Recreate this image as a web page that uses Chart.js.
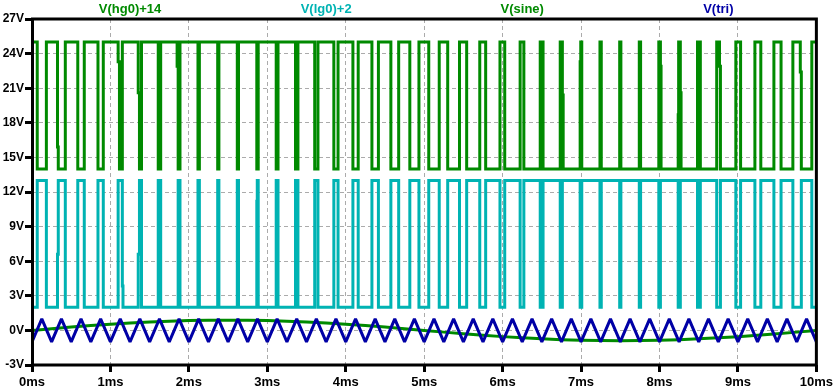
<!DOCTYPE html>
<html><head><meta charset="utf-8">
<script src="https://cdn.jsdelivr.net/npm/chart.js@4/dist/chart.umd.min.js"></script>
<style>html,body{margin:0;padding:0;background:#fff;overflow:hidden}#wrap{width:836px;height:391px;position:relative}</style>
</head><body><div id="wrap"><canvas id="c" width="836" height="391"></canvas></div>
<script>
// ---- data (time in ms, volts) ----
const seriesNames = ['V(hg0)+14', 'V(lg0)+2', 'V(sine)', 'V(tri)'];
const seriesColors = ['#008a00', '#00b3b3', '#008a00', '#0000a6'];
const xTickLabels = ['0ms','1ms','2ms','3ms','4ms','5ms','6ms','7ms','8ms','9ms','10ms'];
const yTickLabels = ['-3V','0V','3V','6V','9V','12V','15V','18V','21V','24V','27V'];

const triTimes = [0,0.125,0.25,0.375,0.5,0.625,0.75,0.875,1,1.125,1.25,1.375,1.5,1.625,1.75,1.875,
 2,2.125,2.25,2.375,2.5,2.625,2.75,2.875,3,3.125,3.25,3.375,3.5,3.625,3.75,3.875,
 4,4.125,4.25,4.375,4.5,4.625,4.75,4.875,5,5.125,5.25,5.375,5.5,5.625,5.75,5.875,
 6,6.125,6.25,6.375,6.5,6.625,6.75,6.875,7,7.125,7.25,7.375,7.5,7.625,7.75,7.875,
 8,8.125,8.25,8.375,8.5,8.625,8.75,8.875,9,9.125,9.25,9.375,9.5,9.625,9.75,9.875,10];
const triValues = [-1,1,-1,1,-1,1,-1,1,-1,1,-1,1,-1,1,-1,1,
 -1,1,-1,1,-1,1,-1,1,-1,1,-1,1,-1,1,-1,1,
 -1,1,-1,1,-1,1,-1,1,-1,1,-1,1,-1,1,-1,1,
 -1,1,-1,1,-1,1,-1,1,-1,1,-1,1,-1,1,-1,1,
 -1,1,-1,1,-1,1,-1,1,-1,1,-1,1,-1,1,-1,1,-1];

const sineTimes = [0,0.25,0.5,0.75,1,1.25,1.5,1.75,2,2.25,2.5,2.75,3,3.25,3.5,3.75,4,4.25,4.5,4.75,
 5,5.25,5.5,5.75,6,6.25,6.5,6.75,7,7.25,7.5,7.75,8,8.25,8.5,8.75,9,9.25,9.5,9.75,10];
const sineValues = [0,0.15,0.29,0.42,0.54,0.64,0.73,0.80,0.85,0.88,0.89,0.88,0.85,0.80,0.73,0.64,0.54,0.42,0.29,0.15,
 0,-0.15,-0.29,-0.42,-0.54,-0.64,-0.73,-0.80,-0.85,-0.88,-0.89,-0.88,-0.85,-0.80,-0.73,-0.64,-0.54,-0.42,-0.29,-0.15,0];

// switching edges: level holds from previous edge until this time, then jumps to the listed level
const hgTimes = [0,
 0.0668,0.1832,
 0.3253,0.3350,0.4247,
 0.5836,0.6664,
 0.8412,0.9088,
 1.0982,1.1150,1.1518,
 1.3543,1.3700,1.3957,
 1.6094,1.6406,
 1.8500,1.8633,1.8867,
 2.1160,2.1340,
 2.3673,2.3827,
 2.6173,2.6327,
 2.8660,2.8840,
 3.1133,3.1367,
 3.3594,3.3906,
 3.6043,3.6457,
 3.8482,3.9018,
 4.0912,4.1588,
 4.3336,4.4164,
 4.5753,4.6747,
 4.8168,4.9332,
 5.0582,5.1918,
 5.2997,5.4503,
 5.5415,5.7085,
 5.7838,5.9662,
 6.0268,6.2232,
 6.2707,6.4793,
 6.5156,6.7344,
 6.7617,6.7720,6.9883,6.9960,
 7.0090,7.2410,
 7.2577,7.4923,
 7.5077,7.7423,
 7.7590,7.9910,
 8.0117,8.0200,8.2383,8.2440,
 8.2656,8.2750,8.4844,
 8.5207,8.7293,
 8.7650,8.7768,8.9732,
 9.0338,9.2162,
 9.2915,9.4585,
 9.5497,9.7003,
 9.7950,9.8082,9.9418,
 10];
const hgLevels = [25,
 14,25,
 15.9,14,25,
 14,25,
 14,25,
 23.3,14,25,
 20.6,14,25,
 14,25,
 22.9,14,25,
 14,25,
 14,25,
 14,25,
 14,25,
 14,25,
 14,25,
 14,25,
 14,25,
 14,25,
 14,25,
 14,25,
 14,25,
 14,25,
 14,25,
 14,25,
 14,25,
 14,25,
 14,25,
 14,25,
 20.4,14,23.3,25,
 14,25,
 14,25,
 14,25,
 14,25,
 22.9,14,18.7,25,
 20.6,14,25,
 14,25,
 22.9,14,25,
 14,25,
 14,25,
 14,25,
 22.4,14,25,
 25];

const lgTimes = [0,
 0.0668,0.1832,
 0.3253,0.3350,0.4247,
 0.5836,0.6664,
 0.8412,0.9088,
 1.0982,1.1518,1.1600,
 1.3543,1.3700,1.3957,
 1.6094,1.6406,
 1.8633,1.8867,
 2.1160,2.1340,
 2.3673,2.3827,
 2.6173,2.6327,
 2.8660,2.8720,2.8840,
 3.1133,3.1367,
 3.3594,3.3906,
 3.6043,3.6457,
 3.8482,3.9018,
 4.0912,4.1588,
 4.3336,4.4164,
 4.5753,4.6747,
 4.8168,4.9332,
 5.0582,5.1918,
 5.2997,5.4503,
 5.5415,5.7085,
 5.7838,5.9662,
 6.0268,6.2232,
 6.2707,6.4793,
 6.5156,6.7344,
 6.7617,6.9883,
 7.0090,7.2410,
 7.2577,7.4923,
 7.5077,7.7423,
 7.7590,7.9910,
 8.0117,8.2383,
 8.2656,8.4844,
 8.5207,8.7293,
 8.7768,8.9732,
 9.0338,9.2162,
 9.2915,9.4585,
 9.5497,9.7003,
 9.8082,9.9418,
 10];
const lgLevels = [2,
 13,2,
 6.6,13,2,
 13,2,
 13,2,
 13,3.85,2,
 6.6,13,2,
 13,2,
 13,2,
 13,2,
 13,2,
 13,2,
 11.2,13,2,
 13,2,
 13,2,
 13,2,
 13,2,
 13,2,
 13,2,
 13,2,
 13,2,
 13,2,
 13,2,
 13,2,
 13,2,
 13,2,
 13,2,
 13,2,
 13,2,
 13,2,
 13,2,
 13,2,
 13,2,
 13,2,
 13,2,
 13,2,
 13,2,
 13,2,
 13,2,
 13,2,
 13,2,
 13,2,
 2];

// ---- chart ----
const pts = (xs, ys) => xs.map((x, i) => ({x, y: ys[i]}));
const FONT = '"Liberation Sans", Arial, sans-serif';

const framePlugin = {
  id: 'framePlugin',
  afterDatasetsDraw(chart) {
    const {ctx, chartArea: a} = chart;
    ctx.save();
    ctx.strokeStyle = '#000';
    ctx.lineWidth = 3;
    ctx.strokeRect(a.left + 0.5, a.top, a.right - a.left - 0.5, a.bottom - a.top);
    ctx.restore();
  },
  afterDraw(chart) {
    const {ctx, chartArea: a} = chart;
    const w = (a.right - a.left) / seriesNames.length;
    ctx.save();
    ctx.font = 'bold 13px ' + FONT;
    ctx.textAlign = 'center';
    ctx.textBaseline = 'alphabetic';
    seriesNames.forEach((n, i) => {
      ctx.fillStyle = seriesColors[i];
      ctx.fillText(n, a.left + w * (i + 0.5), 12.5);
    });
    ctx.restore();
  }
};

const gridOpts = {color: '#ababab', lineWidth: 1, tickColor: '#000', tickWidth: 3, tickLength: 7, drawTicks: true};

new Chart(document.getElementById('c'), {
  type: 'line',
  data: {
    datasets: [
      {label: seriesNames[3], data: pts(triTimes, triValues), borderColor: seriesColors[3], borderWidth: 3, borderJoinStyle: 'bevel', order: 0},
      {label: seriesNames[2], data: pts(sineTimes, sineValues), borderColor: seriesColors[2], borderWidth: 3, order: 1},
      {label: seriesNames[1], data: pts(lgTimes, lgLevels), borderColor: seriesColors[1], borderWidth: 3, stepped: true, order: 2},
      {label: seriesNames[0], data: pts(hgTimes, hgLevels), borderColor: seriesColors[0], borderWidth: 3, stepped: true, order: 3}
    ]
  },
  options: {
    responsive: false,
    animation: false,
    devicePixelRatio: 1,
    layout: {padding: {top: 19, right: 18, left: 0, bottom: 0}},
    elements: {point: {radius: 0, hoverRadius: 0}, line: {tension: 0, fill: false, borderCapStyle: 'butt'}},
    plugins: {legend: {display: false}, tooltip: {enabled: false}},
    events: [],
    scales: {
      x: {
        type: 'linear', min: 0, max: 10,
        afterFit(s) { s.height = 26; },
        ticks: {stepSize: 1, autoSkip: false, maxRotation: 0, padding: 3, color: '#000',
                font: {family: FONT, size: 13, weight: 'bold'},
                callback: (v, i) => xTickLabels[i]},
        grid: gridOpts,
        border: {display: false, dash: [4, 3]}
      },
      y: {
        type: 'linear', min: -3, max: 27,
        afterFit(s) { s.width = 32; },
        ticks: {stepSize: 3, autoSkip: false, padding: 1, color: '#000',
                font: {family: FONT, size: 12, weight: 'bold'},
                callback: (v, i) => yTickLabels[i]},
        grid: gridOpts,
        border: {display: false, dash: [4, 3]}
      }
    }
  },
  plugins: [framePlugin]
});
</script>
</body></html>
